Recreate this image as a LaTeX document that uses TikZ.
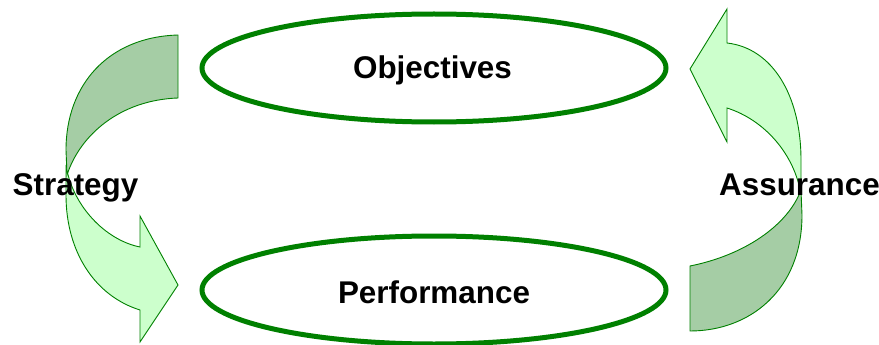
\documentclass[tikz,border=0pt]{standalone}
\usepackage{fontspec}
\setmainfont{Liberation Sans}
\usetikzlibrary{shapes.geometric}
\definecolor{ringgreen}{RGB}{0,128,0}
\definecolor{arrowline}{RGB}{0,128,0}
\definecolor{lightfill}{RGB}{204,255,204}
\definecolor{darkfill}{RGB}{165,205,165}
\tikzset{
  ring/.style={draw=ringgreen, line width=5pt, ellipse, minimum width=464pt, minimum height=108pt, inner sep=0pt},
  lbl/.style={font=\fontsize{31.4pt}{36pt}\selectfont\bfseries, anchor=base, inner sep=0pt, text=black},
  frontpart/.style={fill=lightfill, draw=arrowline, line width=0.9pt, line join=miter},
  backpart/.style={fill=darkfill, draw=arrowline, line width=0.9pt, line join=miter}
}
\begin{document}
\begin{tikzpicture}[x=1pt, y=-1pt]
\useasboundingbox (0,0) rectangle (879,345);
% ellipses
\node[ring] (objE) at (434,68) {};
\node[ring] (perfE) at (434,290) {};
% left curved arrow (Strategy)
\path[frontpart] (66,165) -- (66,195) .. controls (66,252) and (95,296) .. (140,310)
  -- (140,342) -- (178,285) -- (140,216) -- (140,247)
  .. controls (105,240) and (72,205) .. (66,165) -- cycle;
\path[backpart] (178,35) .. controls (108,37) and (66,85) .. (66,150) -- (67,175)
  .. controls (80,135) and (120,100) .. (178,98) -- cycle;
% right curved arrow (Assurance)
\path[frontpart] (727,43) .. controls (772,48) and (801,95) .. (801,160) -- (801,195)
  .. controls (795,155) and (765,120) .. (727,108) -- (727,142) -- (690,69) -- (727,9) -- cycle;
\path[backpart] (690,266) .. controls (745,255) and (788,225) .. (801,190) -- (802,215)
  .. controls (802,290) and (750,331) .. (690,331) -- cycle;
% labels
\node[lbl] (obj) at (432.5,78) {Objectives};
\node[lbl] (perf) at (434,303) {Performance};
\node[lbl] (strat) at (75.5,195) {Strategy};
\node[lbl] (assur) at (799.5,195) {Assurance};
\end{tikzpicture}
\end{document}
